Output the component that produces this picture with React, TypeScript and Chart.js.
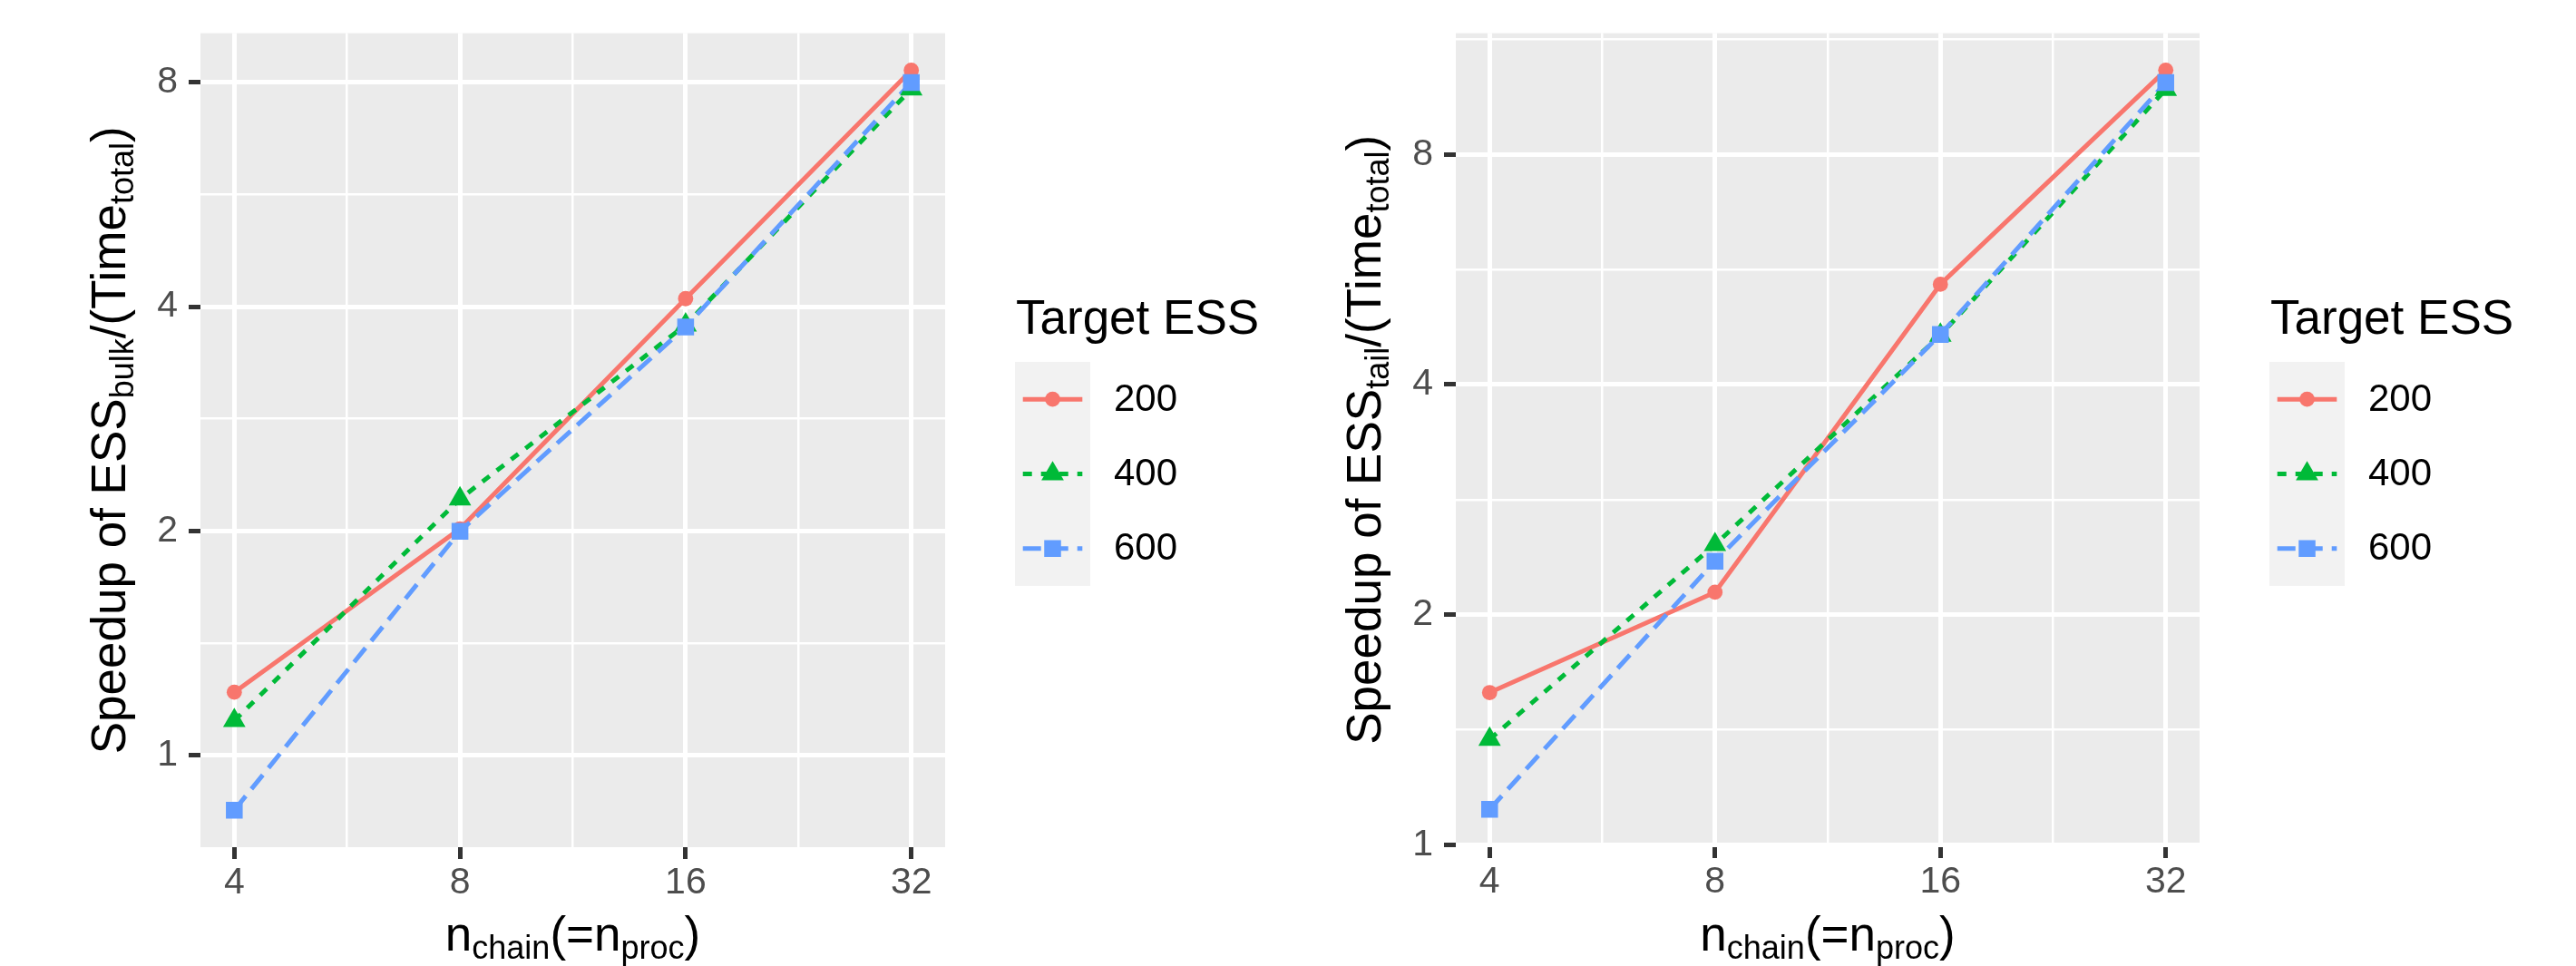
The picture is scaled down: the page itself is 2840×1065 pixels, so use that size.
import React, { useEffect, useRef } from 'react';
import { Chart, registerables } from 'chart.js';

Chart.register(...registerables);

// ---------------- data ----------------
const nChain = [4, 8, 16, 32];
const targetESS = ['200', '400', '600'];
const bulkSpeedup200 = [1.214, 2.012, 4.1, 8.31];
const bulkSpeedup400 = [1.112, 2.207, 3.78, 7.84];
const bulkSpeedup600 = [0.843, 1.997, 3.757, 8.0];
const tailSpeedup200 = [1.582, 2.14, 5.41, 10.31];
const tailSpeedup400 = [1.374, 2.47, 4.64, 9.73];
const tailSpeedup600 = [1.113, 2.35, 4.65, 9.93];
const xTickValues = [4, 8, 16, 32];
const xTickLabels = ['4', '8', '16', '32'];
const yTickValues = [1, 2, 4, 8];
const yTickLabels = ['1', '2', '4', '8'];
const legendTitle = 'Target ESS';

// ---------------- styles ----------------
const FONT = '"Liberation Sans", Arial, Helvetica, sans-serif';
const COLORS = ['#F8766D', '#00BA38', '#619CFF'];
const SHAPES = ['circle', 'triangle', 'rect'];
const RADII = [8.4, 14.3, 13.1];
const DASHES: number[][] = [[], [10, 10], [20, 10]];
const LINE_W = 5;
const TITLE_SIZE = 53;
const SUB_RATIO = 0.68;
const SUB_SHIFT = 9;
const W = 1420;
const H = 1065;

function logLimits(vals: number[]) {
  const l = vals.map((v) => Math.log2(v));
  const lo = Math.min(...l);
  const hi = Math.max(...l);
  const pad = 0.05 * (hi - lo);
  return [Math.pow(2, lo - pad), Math.pow(2, hi + pad)];
}

function minorBreaks(majors: number[], min: number, max: number) {
  const step = majors[1] / majors[0];
  const ext = [majors[0] / step, ...majors, majors[majors.length - 1] * step];
  const out: number[] = [];
  for (let i = 0; i < ext.length - 1; i++) {
    const m = Math.sqrt(ext[i] * ext[i + 1]);
    if (m >= min && m <= max) out.push(m);
  }
  return out;
}

const near = (a: number, b: number) => Math.abs(Math.log2(a) - Math.log2(b)) < 1e-6;

function ggLogScale(axis: 'x' | 'y', majors: number[], labels: string[], min: number, max: number, fitSize: number, tickPad: number) {
  const minors = minorBreaks(majors, min, max);
  const all = [...majors, ...minors].sort((a, b) => a - b);
  const isMajor = (v: number) => majors.some((m) => near(m, v));
  return {
    type: 'logarithmic',
    position: axis === 'x' ? 'bottom' : 'left',
    min,
    max,
    afterBuildTicks: (s: any) => {
      s.ticks = all.map((v) => ({ value: v, major: false }));
    },
    afterFit: (s: any) => {
      if (axis === 'x') s.height = fitSize;
      else s.width = fitSize;
    },
    border: { display: false },
    grid: {
      color: '#FFFFFF',
      lineWidth: (c: any) => (c.tick && isMajor(c.tick.value) ? 5 : 2.5),
      drawTicks: true,
      tickLength: 13,
      tickWidth: 5,
      tickColor: (c: any) => (c.tick && isMajor(c.tick.value) ? '#333333' : 'rgba(0,0,0,0)'),
    },
    ticks: {
      autoSkip: false,
      maxRotation: 0,
      minRotation: 0,
      padding: tickPad,
      color: '#4D4D4D',
      font: { family: FONT, size: 41, lineHeight: 1.2 },
      callback: (v: any) => {
        const i = majors.findIndex((m) => near(m, Number(v)));
        return i >= 0 ? labels[i] : '';
      },
    },
  };
}

type Part = { t: string; sub?: boolean };

function drawRich(ctx: CanvasRenderingContext2D, parts: Part[], x: number, y: number, rotate: boolean) {
  ctx.save();
  ctx.translate(x, y);
  if (rotate) ctx.rotate(-Math.PI / 2);
  const fontFor = (p: Part) => `${p.sub ? TITLE_SIZE * SUB_RATIO : TITLE_SIZE}px ${FONT}`;
  let total = 0;
  for (const p of parts) {
    ctx.font = fontFor(p);
    total += ctx.measureText(p.t).width;
  }
  let cx = -total / 2;
  ctx.fillStyle = '#000000';
  ctx.textAlign = 'left';
  ctx.textBaseline = 'alphabetic';
  for (const p of parts) {
    ctx.font = fontFor(p);
    ctx.fillText(p.t, cx, p.sub ? SUB_SHIFT : 0);
    cx += ctx.measureText(p.t).width;
  }
  ctx.restore();
}

function drawShape(ctx: CanvasRenderingContext2D, shape: string, r: number, x: number, y: number, color: string) {
  ctx.save();
  ctx.fillStyle = color;
  ctx.beginPath();
  if (shape === 'circle') {
    ctx.arc(x, y, r, 0, Math.PI * 2);
  } else if (shape === 'triangle') {
    ctx.moveTo(x, y - r);
    ctx.lineTo(x + r * Math.sin((2 * Math.PI) / 3), y - r * Math.cos((2 * Math.PI) / 3));
    ctx.lineTo(x + r * Math.sin((4 * Math.PI) / 3), y - r * Math.cos((4 * Math.PI) / 3));
    ctx.closePath();
  } else {
    const s = r * Math.SQRT1_2;
    ctx.rect(x - s, y - s, 2 * s, 2 * s);
  }
  ctx.fill();
  ctx.restore();
}

type PanelSpec = {
  left: number;
  plotLeft: number;
  plotRight: number;
  plotTop: number;
  plotBottom: number;
  yTitleX: number;
  sub: string;
  series: number[][];
};

function GGPanel({ spec }: { spec: PanelSpec }) {
  const ref = useRef<HTMLCanvasElement>(null);
  useEffect(() => {
    const canvas = ref.current;
    if (!canvas) return;
    const allY = spec.series.flat();
    const [yMin, yMax] = logLimits(allY);
    const [xMin, xMax] = logLimits(nChain);

    const lineSets = spec.series.map((vals, i) => ({
      label: targetESS[i] + ' line',
      data: nChain.map((x, j) => ({ x, y: vals[j] })),
      borderColor: COLORS[i],
      backgroundColor: COLORS[i],
      borderWidth: LINE_W,
      borderDash: DASHES[i],
      borderCapStyle: 'butt',
      borderJoinStyle: 'round',
      pointRadius: 0,
      tension: 0,
      fill: false,
      order: 10 + (2 - i),
    }));
    const pointSets = spec.series.map((vals, i) => ({
      label: targetESS[i],
      data: nChain.map((x, j) => ({ x, y: vals[j] })),
      showLine: false,
      borderColor: COLORS[i],
      backgroundColor: COLORS[i],
      pointStyle: SHAPES[i],
      pointRadius: RADII[i],
      pointBorderWidth: 0,
      pointBackgroundColor: COLORS[i],
      order: 2 - i,
    }));

    const decor = {
      id: 'ggDecor',
      beforeDraw(chart: any) {
        const { ctx, chartArea } = chart;
        ctx.save();
        ctx.fillStyle = '#EBEBEB';
        ctx.fillRect(chartArea.left, chartArea.top, chartArea.right - chartArea.left, chartArea.bottom - chartArea.top);
        ctx.restore();
      },
      afterDraw(chart: any) {
        const { ctx, chartArea } = chart;
        // y title
        drawRich(
          ctx,
          [
            { t: 'Speedup of ESS' },
            { t: spec.sub, sub: true },
            { t: '/(Time' },
            { t: 'total', sub: true },
            { t: ')' },
          ],
          spec.yTitleX,
          (chartArea.top + chartArea.bottom) / 2,
          true
        );
        // x title
        drawRich(
          ctx,
          [{ t: 'n' }, { t: 'chain', sub: true }, { t: '(=n' }, { t: 'proc', sub: true }, { t: ')' }],
          (chartArea.left + chartArea.right) / 2,
          1048,
          false
        );
        // legend
        const lx = chartArea.right + 78;
        ctx.save();
        ctx.fillStyle = '#000000';
        ctx.font = `${TITLE_SIZE}px ${FONT}`;
        ctx.textAlign = 'left';
        ctx.textBaseline = 'alphabetic';
        ctx.fillText(legendTitle, lx, 368);
        const keyTop = 399;
        const rowH = 82.3;
        ctx.fillStyle = '#F2F2F2';
        ctx.fillRect(lx - 1, keyTop, 83, rowH * targetESS.length);
        targetESS.forEach((lab, i) => {
          const cy = keyTop + rowH * (i + 0.5);
          ctx.save();
          ctx.strokeStyle = COLORS[i];
          ctx.lineWidth = LINE_W;
          ctx.lineCap = 'butt';
          ctx.setLineDash(DASHES[i]);
          ctx.beginPath();
          ctx.moveTo(lx + 7.7, cy);
          ctx.lineTo(lx + 73.3, cy);
          ctx.stroke();
          ctx.restore();
          drawShape(ctx, SHAPES[i], RADII[i], lx + 40.5, cy, COLORS[i]);
          ctx.fillStyle = '#000000';
          ctx.font = `42px ${FONT}`;
          ctx.textBaseline = 'middle';
          ctx.fillText(lab, lx + 108, cy + 1);
        });
        ctx.restore();
      },
    };

    const chart = new Chart(canvas, {
      type: 'line',
      data: { datasets: [...lineSets, ...pointSets] as any },
      options: {
        responsive: false,
        maintainAspectRatio: false,
        animation: false,
        devicePixelRatio: 1,
        events: [],
        layout: {
          padding: { left: 0, top: spec.plotTop, right: W - spec.plotRight, bottom: 0 },
        },
        plugins: {
          legend: { display: false },
          tooltip: { enabled: false },
          title: { display: false },
        },
        scales: {
          x: ggLogScale('x', xTickValues, xTickLabels, xMin, xMax, H - spec.plotBottom, 2) as any,
          y: ggLogScale('y', yTickValues, yTickLabels, yMin, yMax, spec.plotLeft, 12) as any,
        },
      },
      plugins: [decor as any],
    });
    return () => chart.destroy();
  }, []);
  return (
    <canvas
      ref={ref}
      width={W}
      height={H}
      style={{ position: 'absolute', left: spec.left, top: 0, width: W, height: H }}
    />
  );
}

const leftSpec: PanelSpec = {
  left: 0,
  plotLeft: 221,
  plotRight: 1042,
  plotTop: 36,
  plotBottom: 934,
  yTitleX: 138,
  sub: 'bulk',
  series: [bulkSpeedup200, bulkSpeedup400, bulkSpeedup600],
};

const rightSpec: PanelSpec = {
  left: 1420,
  plotLeft: 185,
  plotRight: 1005,
  plotTop: 35,
  plotBottom: 933,
  yTitleX: 102,
  sub: 'tail',
  series: [tailSpeedup200, tailSpeedup400, tailSpeedup600],
};

export default function App() {
  return (
    <div
      style={{
        position: 'absolute',
        left: 0,
        top: 0,
        width: 2840,
        height: 1065,
        background: '#FFFFFF',
        overflow: 'hidden',
      }}
    >
      <GGPanel spec={leftSpec} />
      <GGPanel spec={rightSpec} />
    </div>
  );
}
